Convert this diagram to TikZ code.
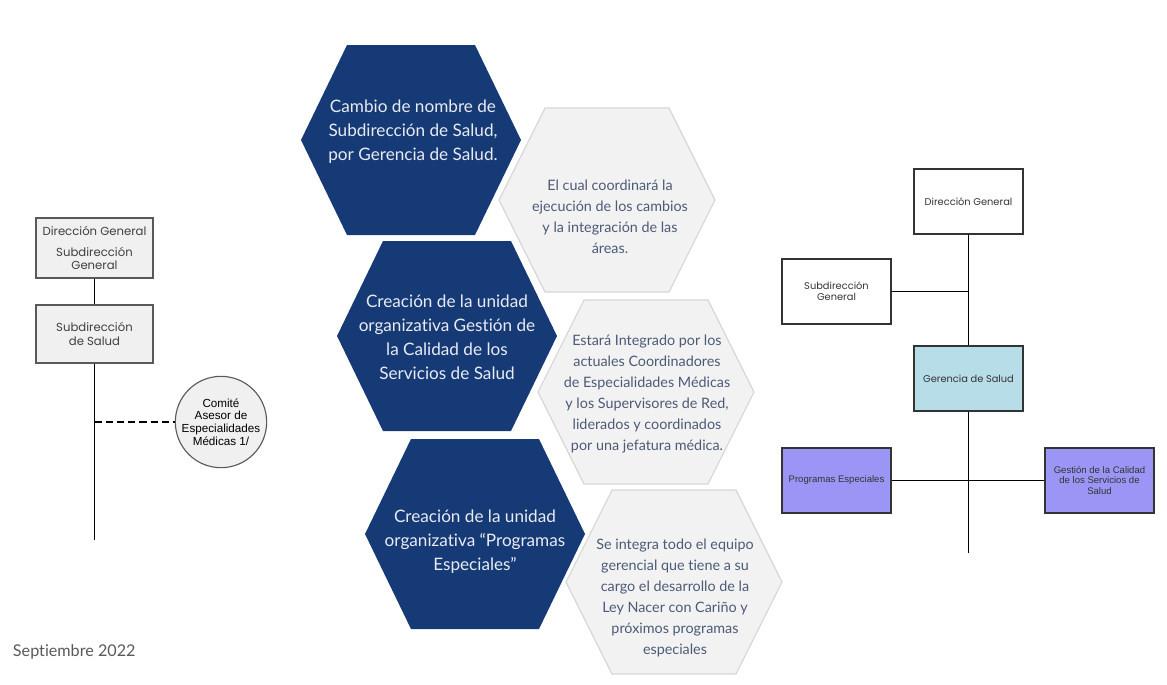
\documentclass[tikz,border=0pt]{standalone}
\usepackage{fontspec}
\setmainfont{Lato}[Ligatures=NoCommon]
\newfontfamily\gothic{Poppins}
\newfontfamily\arial{Liberation Sans}
\usetikzlibrary{calc}
\definecolor{hexblue}{RGB}{22,58,118}
\definecolor{hexgray}{RGB}{242,242,242}
\definecolor{hexline}{RGB}{215,215,215}
\definecolor{hexink}{RGB}{76,90,118}
\definecolor{boxgray}{RGB}{240,240,240}
\definecolor{gerblue}{RGB}{183,221,232}
\definecolor{progpurple}{RGB}{155,150,245}
\tikzset{
  darktxt/.style={align=center,text=white!90!hexblue,font=\fontsize{12.2}{17}\selectfont},
  graytxt/.style={align=center,text=hexink,font=\fontsize{10.2}{15}\selectfont},
  oldbox/.style={draw=black!65,fill=boxgray,line width=0.8pt,minimum width=2.925cm,align=center,font=\gothic\fontsize{8.3}{9.5}\selectfont,text=black!75},
  newbox/.style={draw=black!80,line width=0.8pt,minimum width=2.725cm,minimum height=1.625cm,align=center,font=\gothic\fontsize{7}{8}\selectfont,text=black!80},
  unitbox/.style={newbox,fill=progpurple,font=\arial\fontsize{6.8}{7.6}\selectfont},
  link/.style={line width=0.9pt}
}
\begin{document}
\begin{tikzpicture}[x=0.025cm,y=-0.025cm]
\useasboundingbox (0,0) rectangle (1167,685);

% hexagons, centre x/centre y
\foreach \cx/\cy in {411/140,447/336,475/534}
  \fill[hexblue] (\cx-110,\cy) -- (\cx-64,\cy-95) -- (\cx+64,\cy-95) -- (\cx+110,\cy)
     -- (\cx+64,\cy+95) -- (\cx-64,\cy+95) -- cycle;
\foreach \cx/\cy in {607/200,646/392,674/582}
  \filldraw[fill=hexgray,draw=hexline,line width=0.8pt] (\cx-108,\cy) -- (\cx-62,\cy-92)
     -- (\cx+62,\cy-92) -- (\cx+108,\cy) -- (\cx+62,\cy+92) -- (\cx-62,\cy+92) -- cycle;

\node[darktxt] (cambio) at (413,132) {Cambio de nombre de\\Subdirección de Salud,\\por Gerencia de Salud.};
\node[darktxt] (calidad) at (447,337) {Creación de la unidad\\organizativa Gestión de\\la Calidad de los\\Servicios de Salud};
\node[darktxt] (programas) at (475,542) {Creación de la unidad\\organizativa “Programas\\Especiales”};
\node[graytxt] (coordina) at (610,217) {El cual coordinará la\\ejecución de los cambios\\y la integración de las\\áreas.};
\node[graytxt] (integrado) at (647,394) {Estará Integrado por los\\actuales Coordinadores\\de Especialidades Médicas\\y los Supervisores de Red,\\liderados y coordinados\\por una jefatura médica.};
\node[graytxt] (equipo) at (675,598) {Se integra todo el equipo\\gerencial que tiene a su\\cargo el desarrollo de la\\Ley Nacer con Cariño y\\próximos programas\\especiales};

% organigrama anterior
\node[oldbox,minimum height=1.5cm] (dgA) at (94.5,248) {Dirección General\\[5pt]Subdirección\\General};
\node[oldbox,minimum height=1.45cm] (ssA) at (94.5,334) {Subdirección\\de Salud};
\node[circle,draw=black!65,fill=boxgray,line width=0.8pt,minimum size=2.2cm,inner sep=0pt,align=center,
  font=\arial\fontsize{8.3}{9}\selectfont] (comite) at (221,422) {Comité\\Asesor de\\Especialidades\\Médicas 1/};
\coordinate (finA) at (94.5,540);
\draw[link] (dgA) -- (ssA);
\draw[link] (ssA.south) -- (finA);
\draw[link,dash pattern=on 5pt off 3pt] (ssA.south |- comite.west) -- (comite.west);

% organigrama nuevo
\node[newbox] (dgB) at (968.5,201.5) {Dirección General};
\node[newbox] (sgB) at (836.5,291.5) {Subdirección\\General};
\node[newbox,fill=gerblue] (gerB) at (968.5,378.5) {Gerencia de Salud};
\node[unitbox] (peB) at (836.5,480.5) {Programas Especiales};
\node[unitbox] (gcB) at (1099.5,480.5) {Gestión de la Calidad\\de los Servicios de\\Salud};
\coordinate (finB) at (968.5,553);
\draw[link] (dgB) -- (gerB);
\draw[link] (sgB.east) -- (sgB.east -| dgB.south);
\draw[link] (gerB) -- (finB);
\draw[link] (peB) -- (gcB);

\node[anchor=west,text=black!65,font=\fontsize{11.5}{14}\selectfont] (fecha) at (8,652) {Septiembre 2022};
\end{tikzpicture}
\end{document}
